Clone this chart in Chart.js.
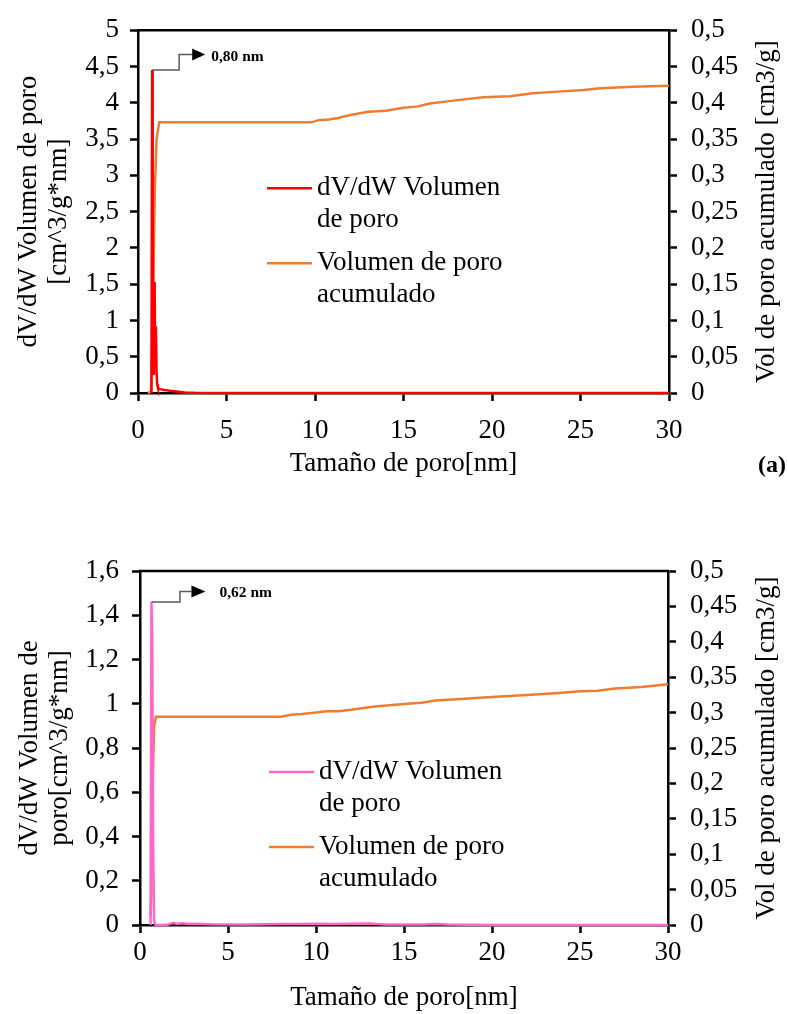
<!DOCTYPE html>
<html><head><meta charset="utf-8">
<script src="https://cdn.jsdelivr.net/npm/chart.js@4.4.1/dist/chart.umd.min.js"></script>
<style>
html,body{margin:0;padding:0;background:#fff;}
#wrap{position:relative;width:788px;height:1014px;overflow:hidden;background:#fff}
canvas{position:absolute;left:0}
#ca{top:0}
#cb{top:497px}
</style></head><body>
<div id="wrap"><canvas id="ca" width="788" height="497"></canvas><canvas id="cb" width="788" height="517"></canvas></div>
<script>
// ---------- DATA ----------
// Chart (a)
const sizeDistA = [0.76, 0.80, 0.83, 0.87, 0.90, 0.94, 0.97, 1.01, 1.05, 1.08, 1.12, 1.18, 1.3, 1.5, 1.8, 2.1, 2.4, 2.7, 3.2, 5, 30];
const dvdwA     = [0, 4.45, 2.5, 0.3, 0.25, 1.53, 0.4, 0.92, 0.3, 0.12, 0.08, 0.06, 0.05, 0.04, 0.03, 0.025, 0.015, 0.005, 0.002, 0.001, 0];
const sizeCumA  = [0.55, 0.75, 0.85, 0.95, 1.05, 1.2, 9.8, 10.2, 10.8, 11.3, 12, 13, 14, 15, 15.8, 16.5, 17.7, 19.5, 21, 22.3, 23.5, 25.2, 26.1, 28, 30];
const cumVolA   = [0, 0.002, 0.12, 0.28, 0.35, 0.373, 0.373, 0.376, 0.377, 0.379, 0.383, 0.3875, 0.389, 0.393, 0.395, 0.399, 0.4026, 0.4075, 0.409, 0.413, 0.415, 0.4175, 0.420, 0.422, 0.4235];
// Chart (b)
const sizeDistB = [0.60, 0.65, 0.70, 0.74, 0.80, 0.88, 1.0, 1.5, 1.9, 2.1, 2.4, 2.8, 3.2, 4, 6, 8, 9, 10, 11, 12, 13, 13.5, 14, 16, 16.8, 17.5, 20, 30];
const dvdwB     = [0, 1.46, 1.28, 0.4, 0.02, 0, 0, 0, 0.01, 0.005, 0.008, 0.004, 0.006, 0.003, 0.002, 0.004, 0.005, 0.006, 0.004, 0.006, 0.007, 0.004, 0.002, 0.002, 0.005, 0.002, 0, 0];
const sizeCumB  = [0.60, 0.65, 0.72, 0.8, 0.9, 8.0, 8.6, 9.2, 10, 10.6, 11.3, 12, 12.8, 13.5, 15, 16, 16.8, 18, 20, 22, 24, 25, 26, 27, 28.5, 30];
const cumVolB   = [0.013, 0.05, 0.2, 0.28, 0.294, 0.294, 0.297, 0.298, 0.300, 0.302, 0.302, 0.304, 0.307, 0.309, 0.312, 0.314, 0.317, 0.319, 0.322, 0.325, 0.328, 0.33, 0.331, 0.334, 0.336, 0.34];

// Tick labels
const xTicks      = ['0', '5', '10', '15', '20', '25', '30'];
const leftTicksA  = ['0', '0,5', '1', '1,5', '2', '2,5', '3', '3,5', '4', '4,5', '5'];
const leftTicksB  = ['0', '0,2', '0,4', '0,6', '0,8', '1', '1,2', '1,4', '1,6'];
const rightTicks  = ['0', '0,05', '0,1', '0,15', '0,2', '0,25', '0,3', '0,35', '0,4', '0,45', '0,5'];

// Texts
const xTitle       = 'Tamaño de poro[nm]';
const leftTitleA   = ['dV/dW Volumen de poro', '[cm^3/g*nm]'];
const leftTitleB   = ['dV/dW Volumen de', 'poro[cm^3/g*nm]'];
const rightTitle   = 'Vol de poro acumulado [cm3/g]';
const seriesNames  = ['dV/dW Volumen de poro', 'Volumen de poro acumulado'];
const legendLines  = [['dV/dW Volumen', 'de poro'], ['Volumen de poro', 'acumulado']];
const peakLabels   = ['0,80 nm', '0,62 nm'];
const panelLabels  = ['(a)', '(b)'];

// ---------- STYLE ----------
const FONT = "'Liberation Serif', 'Times New Roman', serif";
const toXY = (xs, ys) => xs.map((x, i) => ({x, y: ys[i]}));

const boxPlugin = {
  id: 'boxTop',
  afterDraw(chart) {
    const {ctx, chartArea: a} = chart;
    ctx.save();
    ctx.strokeStyle = '#000'; ctx.lineWidth = 2.5;
    ctx.beginPath(); ctx.moveTo(a.left - 1, a.top); ctx.lineTo(a.right + 1, a.top); ctx.stroke();
    ctx.restore();
  }
};

const rightTitlePlugin = {
  id: 'rightTitle',
  afterDraw(chart, args, o) {
    const {ctx, chartArea: a} = chart;
    ctx.save();
    ctx.translate(o.x, (a.top + a.bottom) / 2);
    ctx.rotate(-Math.PI / 2);
    ctx.font = "27px " + FONT;
    ctx.textAlign = 'center'; ctx.textBaseline = 'middle'; ctx.fillStyle = '#000';
    ctx.fillText(o.text, 0, 0);
    ctx.restore();
  }
};

const legendPlugin = {
  id: 'inLegend',
  afterDraw(chart, args, o) {
    const {ctx, chartArea: a} = chart;
    ctx.save();
    ctx.font = o.font;
    ctx.textBaseline = 'middle';
    ctx.fillStyle = '#000';
    o.lines.forEach((lines, i) => {
      const y0 = a.top + o.y + i * o.itemGap;
      ctx.strokeStyle = chart.data.datasets[i].borderColor;
      ctx.lineWidth = 2.5;
      ctx.beginPath(); ctx.moveTo(a.left + o.x, y0); ctx.lineTo(a.left + o.x + o.sample, y0); ctx.stroke();
      lines.forEach((t, j) => ctx.fillText(t, a.left + o.x + o.sample + o.gap, y0 + j * o.lineH));
    });
    ctx.restore();
  }
};

const notePlugin = {
  id: 'peakNote',
  afterDraw(chart, args, o) {
    const {ctx} = chart;
    const pt = chart.data.datasets[o.ds].data[o.idx];
    const px = chart.scales.x.getPixelForValue(pt.x);
    const py = chart.scales.y.getPixelForValue(pt.y);
    ctx.save();
    ctx.strokeStyle = '#595959'; ctx.lineWidth = 1.5;
    ctx.beginPath();
    ctx.moveTo(px, py);
    ctx.lineTo(px + o.dx1, py);
    ctx.lineTo(px + o.dx1, py + o.dy);
    ctx.lineTo(px + o.dx2, py + o.dy);
    ctx.stroke();
    ctx.fillStyle = '#000';
    ctx.beginPath();
    ctx.moveTo(px + o.dx2, py + o.dy - 6);
    ctx.lineTo(px + o.dx3, py + o.dy);
    ctx.lineTo(px + o.dx2, py + o.dy + 6);
    ctx.closePath(); ctx.fill();
    ctx.font = "bold 15.5px " + FONT;
    ctx.textBaseline = 'middle';
    ctx.fillText(o.text, px + o.dxText, py + o.dy + o.dyText);
    ctx.restore();
  }
};

const panelPlugin = {
  id: 'panel',
  afterDraw(chart, args, o) {
    const {ctx} = chart;
    ctx.save();
    ctx.font = "bold 24px " + FONT;
    ctx.textAlign = 'right'; ctx.textBaseline = 'middle'; ctx.fillStyle = '#000';
    ctx.fillText(o.text, o.x, o.y);
    ctx.restore();
  }
};

function makeChart(id, cfg) {
  const tickFont = {family: FONT, size: 27, lineHeight: 1.2};
  const titleFont = {family: FONT, size: 27, lineHeight: 1.1};
  const grid = {drawOnChartArea: false, drawTicks: true, tickLength: 8, tickColor: '#000', tickWidth: 2.5};
  const border = {display: true, color: '#000', width: 2.5};
  return new Chart(document.getElementById(id), {
    type: 'line',
    data: {
      datasets: [
        {label: seriesNames[0], data: toXY(cfg.sx1, cfg.sy1), yAxisID: 'y', borderColor: cfg.c1, borderWidth: 2.5, pointRadius: 0, tension: 0, clip: false},
        {label: seriesNames[1], data: toXY(cfg.sx2, cfg.sy2), yAxisID: 'y1', borderColor: '#ED7D31', borderWidth: 2.5, pointRadius: 0, tension: 0, clip: false}
      ]
    },
    options: {
      responsive: false, animation: false, devicePixelRatio: 1,
      layout: {padding: {top: cfg.top, left: 0, right: 0, bottom: 0}},
      plugins: {
        legend: {display: false}, tooltip: {enabled: false},
        inLegend: {font: "27px " + FONT, lines: legendLines, x: 129, y: cfg.legY, itemGap: 75, sample: 45, gap: 5, lineH: 31.5},
        peakNote: cfg.note,
        panel: cfg.panel,
        rightTitle: {text: rightTitle, x: 767}
      },
      scales: {
        x: {
          type: 'linear', min: 0, max: 30, position: 'bottom', z: -1,
          afterFit: s => { s.height = cfg.xh; },
          ticks: {stepSize: 5, font: tickFont, color: '#000', padding: cfg.xpad, callback: (v, i) => xTicks[i]},
          grid, border,
          title: {display: true, text: xTitle, font: titleFont, color: '#000', padding: {bottom: cfg.xtpad}}
        },
        y: {
          type: 'linear', position: 'left', min: 0, max: cfg.ymax, z: -1,
          afterFit: s => { s.width = cfg.lw; },
          ticks: {stepSize: cfg.ystep, font: tickFont, color: '#000', padding: cfg.ypad, callback: (v, i) => cfg.lt[i]},
          grid, border,
          title: {display: true, text: cfg.ltitle, font: titleFont, color: '#000', padding: {top: cfg.ltpad}}
        },
        y1: {
          type: 'linear', position: 'right', min: 0, max: 0.5, z: -1,
          afterFit: s => { s.width = cfg.rw; },
          ticks: {stepSize: 0.05, font: tickFont, color: '#000', padding: 14, callback: (v, i) => rightTicks[i]},
          grid, border,
          title: {display: false}
        }
      }
    },
    plugins: [boxPlugin, legendPlugin, notePlugin, panelPlugin, rightTitlePlugin]
  });
}

makeChart('ca', {
  sx1: sizeDistA, sy1: dvdwA, sx2: sizeCumA, sy2: cumVolA, c1: '#FF0000',
  top: 27, xh: 104, lw: 138, rw: 119, ymax: 5, ystep: 0.5, lt: leftTicksA, ltitle: leftTitleA,
  xpad: 14, xtpad: 18, ypad: 11, ltpad: 14, legY: 158,
  note: {ds: 0, idx: 1, dx1: 27, dy: -15.5, dx2: 40, dx3: 53, dxText: 59, dyText: 2.5, text: peakLabels[0]},
  panel: {text: panelLabels[0], x: 786, y: 466}
});
makeChart('cb', {
  sx1: sizeDistB, sy1: dvdwB, sx2: sizeCumB, sy2: cumVolB, c1: '#FF66CC',
  top: 74, xh: 89, lw: 140, rw: 120, ymax: 1.6, ystep: 0.2, lt: leftTicksB, ltitle: leftTitleB,
  xpad: 4, xtpad: 1, ypad: 13, ltpad: 15, legY: 201,
  note: {ds: 0, idx: 1, dx1: 28.5, dy: -10.5, dx2: 40, dx3: 54, dxText: 68, dyText: 2, text: peakLabels[1]},
  panel: {text: panelLabels[1], x: 786, y: 997}
});
</script>
</body></html>
